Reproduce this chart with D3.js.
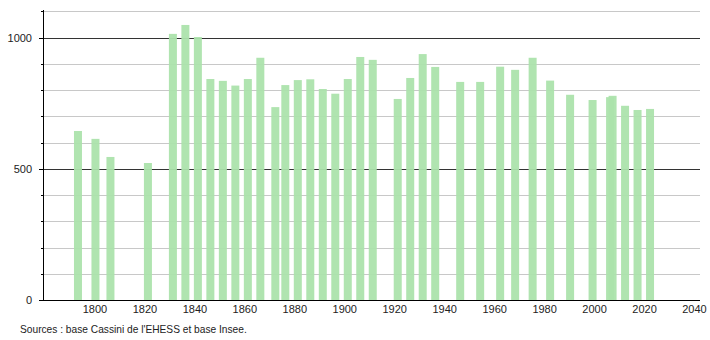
<!DOCTYPE html>
<html lang="fr">
<head>
    <meta charset="UTF-8">
    <title>Évolution démographique</title>
    <script src="https://d3js.org/d3.v7.min.js"></script>
    <style>
        body {
            margin: 0;
            background: #fff;
            font-family: "Liberation Sans", Arial, sans-serif;
        }
        svg text {
            font-size: 11px;
            fill: #222;
        }
        svg text.source {
            font-size: 10.2px;
        }
    </style>
</head>
<body>
    <svg id="chart" width="710" height="340"></svg>
    <script>
        // census years and population
        const years = [1793, 1800, 1806, 1821, 1831, 1836, 1841, 1846, 1851, 1856,
            1861, 1866, 1872, 1876, 1881, 1886, 1891, 1896, 1901, 1906,
            1911, 1921, 1926, 1931, 1936, 1946, 1954, 1962, 1968, 1975,
            1982, 1990, 1999, 2006, 2007, 2012, 2017, 2022];
        const population = [644, 614, 545, 522, 1014, 1048, 1002, 842, 835, 817,
            842, 923, 735, 819, 838, 841, 804, 786, 842, 926,
            915, 766, 846, 937, 888, 831, 831, 889, 877, 923,
            836, 782, 762, 773, 778, 740, 724, 728];
        const xTicks = [1800, 1820, 1840, 1860, 1880, 1900, 1920, 1940, 1960, 1980, 2000, 2020, 2040];
        const yLabels = [0, 500, 1000];
        const yGrid = d3.range(100, 1101, 100);
        const source = "Sources : base Cassini de l'EHESS et base Insee.";

        const svg = d3.select("#chart");
        const plotLeft = 43, plotRight = 700, plotTop = 10, plotBottom = 300;

        const x = d3.scaleLinear().domain([1779.2, 2042.2]).range([plotLeft, plotRight]);
        const y = d3.scaleLinear().domain([0, 1105]).range([plotBottom, plotTop]);
        const barW = 8;

        // horizontal grid
        svg.append("g")
            .selectAll("line")
            .data(yGrid)
            .enter()
            .append("line")
            .attr("x1", plotLeft)
            .attr("x2", plotRight)
            .attr("y1", d => Math.round(y(d)) + 0.5)
            .attr("y2", d => Math.round(y(d)) + 0.5)
            .attr("stroke", d => d % 500 === 0 ? "#333" : "#c8c8c8")
            .attr("stroke-width", 1);

        // bars
        svg.append("g")
            .selectAll("rect")
            .data(years)
            .enter()
            .append("rect")
            .attr("x", d => x(d) + 0.5 - barW / 2)
            .attr("y", (d, i) => y(population[i]))
            .attr("width", barW)
            .attr("height", (d, i) => plotBottom - y(population[i]))
            .attr("fill", "#ace3ac")
            .attr("fill-opacity", 0.95);

        // left axis
        svg.append("line")
            .attr("x1", plotLeft + 0.5).attr("x2", plotLeft + 0.5)
            .attr("y1", plotTop).attr("y2", plotBottom)
            .attr("stroke", "#000");

        svg.append("g")
            .selectAll("line")
            .data(d3.range(0, 1101, 100))
            .enter()
            .append("line")
            .attr("x1", d => d % 500 === 0 ? plotLeft - 4 : plotLeft - 2)
            .attr("x2", plotLeft)
            .attr("y1", d => Math.round(y(d)) + 0.5)
            .attr("y2", d => Math.round(y(d)) + 0.5)
            .attr("stroke", "#000");

        svg.append("g")
            .selectAll("text")
            .data(yLabels)
            .enter()
            .append("text")
            .attr("x", 32)
            .attr("y", d => y(d) + 4)
            .attr("text-anchor", "end")
            .text(d => d);

        // bottom axis
        svg.append("line")
            .attr("x1", plotLeft).attr("x2", plotRight)
            .attr("y1", plotBottom + 0.5).attr("y2", plotBottom + 0.5)
            .attr("stroke", "#000");

        svg.append("g")
            .selectAll("text")
            .data(xTicks)
            .enter()
            .append("text")
            .attr("x", d => x(d))
            .attr("y", 313)
            .attr("text-anchor", "middle")
            .text(d => d);

        svg.append("text")
            .attr("class", "source")
            .attr("x", 20)
            .attr("y", 333)
            .text(source);
    </script>
</body>
</html>
